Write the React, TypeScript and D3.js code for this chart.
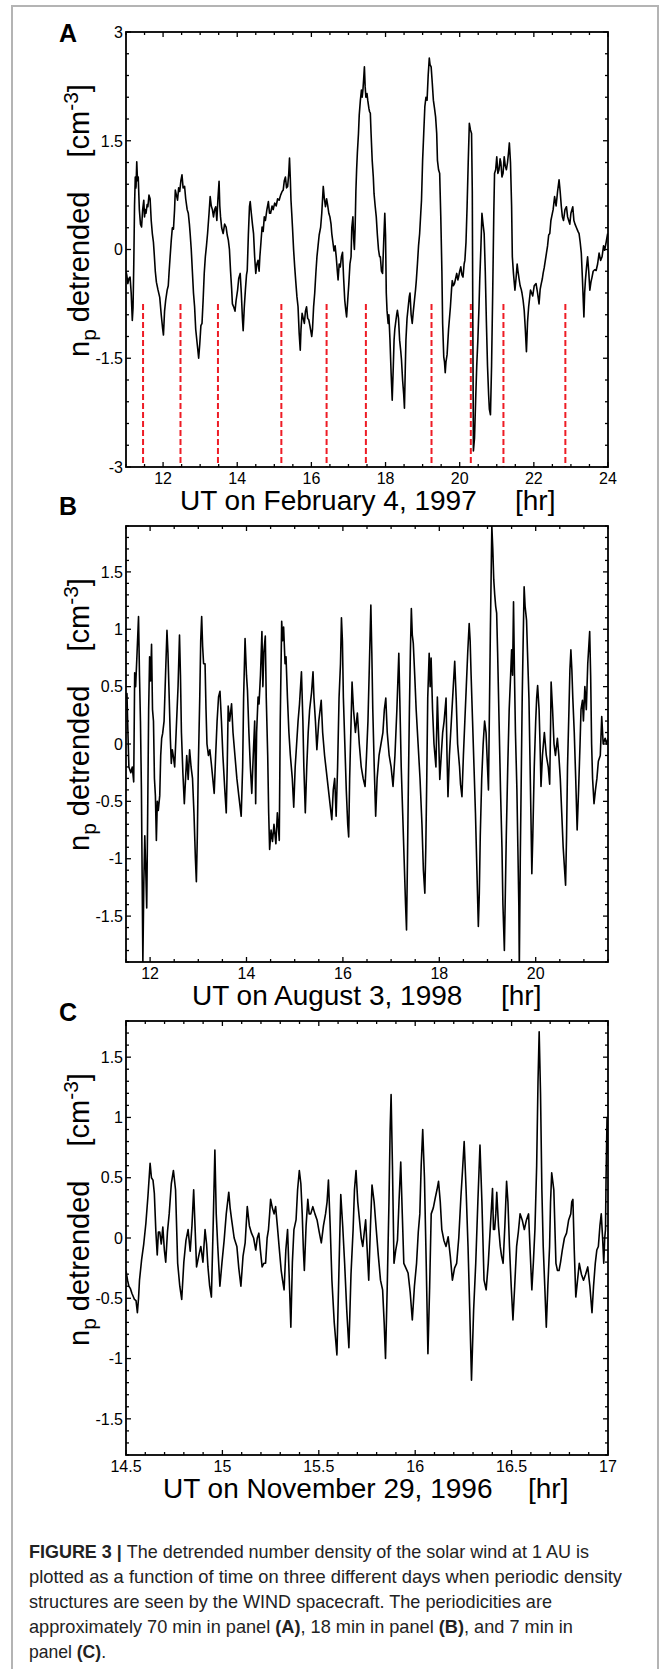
import React from "react";
import * as d3 from "d3";

type Pt = [number, number];

// Panel A: UT on February 4, 1997 (hour, detrended n_p)
const seriesA: Pt[] = [
[11.00,-0.30],[11.02,-0.35],[11.05,-0.47],[11.08,-0.40],[11.11,-0.38],[11.14,-0.60],[11.17,-0.98],[11.19,-0.80],[11.21,-0.2],[11.23,0.6],[11.25,1.0],[11.27,0.85],[11.29,1.21],[11.31,0.95],[11.33,1.0],[11.36,0.55],[11.39,0.35],[11.42,0.31],[11.45,0.55],[11.48,0.68],[11.50,0.45],[11.52,0.55],[11.54,0.50],[11.57,0.62],[11.59,0.59],[11.62,0.75],[11.65,0.70],[11.68,0.40],[11.71,0.22],[11.74,0.1],[11.76,-0.05],[11.79,-0.3],[11.82,-0.45],[11.86,-0.55],[11.91,-0.66],[11.95,-0.90],[11.99,-1.10],[12.01,-1.18],[12.04,-0.85],[12.07,-0.70],[12.11,-0.56],[12.14,-0.50],[12.16,-0.33],[12.19,-0.1],[12.22,0.12],[12.25,0.30],[12.28,0.28],[12.31,0.55],[12.33,0.82],[12.36,0.75],[12.39,0.68],[12.42,0.85],[12.45,0.80],[12.48,0.95],[12.51,1.03],[12.54,0.85],[12.58,0.87],[12.61,0.70],[12.65,0.55],[12.68,0.50],[12.71,0.35],[12.73,0.22],[12.76,0.0],[12.79,-0.30],[12.82,-0.60],[12.85,-0.79],[12.88,-1.10],[12.92,-1.30],[12.96,-1.50],[12.99,-1.30],[13.02,-1.05],[13.05,-1.02],[13.08,-0.70],[13.11,-0.33],[13.14,-0.10],[13.17,0.05],[13.20,0.22],[13.24,0.50],[13.27,0.73],[13.30,0.60],[13.33,0.55],[13.36,0.45],[13.39,0.55],[13.42,0.59],[13.45,0.40],[13.48,0.70],[13.51,0.94],[13.53,0.60],[13.55,0.45],[13.58,0.30],[13.62,0.22],[13.66,0.35],[13.70,0.31],[13.73,0.20],[13.76,0.13],[13.79,0.0],[13.82,-0.30],[13.85,-0.55],[13.87,-0.75],[13.91,-0.80],[13.94,-0.85],[13.97,-0.70],[14.01,-0.56],[14.04,-0.40],[14.08,-0.33],[14.11,-0.60],[14.14,-0.95],[14.16,-1.12],[14.19,-0.80],[14.22,-0.56],[14.25,-0.35],[14.27,-0.29],[14.30,0.20],[14.33,0.59],[14.35,0.66],[14.38,0.50],[14.41,0.35],[14.44,0.22],[14.47,-0.10],[14.50,-0.33],[14.53,-0.20],[14.56,-0.15],[14.59,-0.30],[14.61,-0.10],[14.64,0.10],[14.67,0.31],[14.70,0.25],[14.73,0.45],[14.76,0.40],[14.80,0.55],[14.84,0.66],[14.87,0.50],[14.90,0.50],[14.94,0.60],[14.97,0.55],[15.01,0.64],[15.05,0.60],[15.09,0.70],[15.13,0.68],[15.17,0.75],[15.21,0.80],[15.24,0.82],[15.27,0.95],[15.30,1.00],[15.33,0.85],[15.36,0.87],[15.39,1.05],[15.41,1.26],[15.43,1.00],[15.45,0.68],[15.47,0.50],[15.49,0.31],[15.52,0.0],[15.55,-0.24],[15.58,-0.45],[15.61,-0.65],[15.64,-0.79],[15.67,-1.15],[15.70,-1.39],[15.72,-1.10],[15.75,-0.88],[15.78,-0.95],[15.81,-1.02],[15.84,-0.85],[15.87,-0.79],[15.90,-0.95],[15.93,-0.97],[15.96,-1.05],[16.01,-1.20],[16.03,-1.10],[16.06,-0.79],[16.09,-0.60],[16.12,-0.33],[16.15,-0.10],[16.18,0.05],[16.21,0.20],[16.25,0.31],[16.28,0.50],[16.32,0.87],[16.35,0.70],[16.38,0.59],[16.41,0.70],[16.44,0.61],[16.47,0.50],[16.50,0.45],[16.53,0.35],[16.55,0.22],[16.58,0.10],[16.61,-0.02],[16.64,0.05],[16.67,-0.10],[16.70,-0.30],[16.72,-0.42],[16.75,-0.20],[16.78,-0.24],[16.81,-0.10],[16.84,-0.04],[16.87,-0.40],[16.90,-0.70],[16.93,-0.85],[16.95,-0.93],[16.98,-0.70],[17.01,-0.47],[17.04,-0.20],[17.07,-0.10],[17.09,0.30],[17.12,0.45],[17.14,0.15],[17.16,0.0],[17.18,0.30],[17.20,0.80],[17.22,1.10],[17.24,1.33],[17.27,1.60],[17.29,1.85],[17.32,2.05],[17.35,2.20],[17.37,2.10],[17.39,2.20],[17.41,2.35],[17.43,2.52],[17.45,2.25],[17.47,2.10],[17.50,2.15],[17.52,2.06],[17.55,1.95],[17.57,1.90],[17.59,1.88],[17.61,1.60],[17.64,1.23],[17.67,1.00],[17.69,0.77],[17.72,0.60],[17.75,0.45],[17.78,0.20],[17.81,0.0],[17.84,-0.10],[17.86,-0.10],[17.89,-0.30],[17.92,-0.33],[17.95,0.10],[17.98,0.50],[18.00,0.20],[18.02,-0.60],[18.04,-0.84],[18.07,-1.02],[18.09,-0.90],[18.12,-1.25],[18.15,-1.70],[18.18,-2.08],[18.21,-1.60],[18.23,-1.25],[18.25,-1.10],[18.27,-1.02],[18.30,-0.90],[18.32,-0.84],[18.35,-0.95],[18.38,-1.25],[18.41,-1.40],[18.43,-1.52],[18.46,-1.80],[18.49,-2.00],[18.51,-2.19],[18.53,-1.70],[18.55,-1.25],[18.58,-0.95],[18.61,-0.80],[18.64,-0.65],[18.66,-0.60],[18.69,-0.90],[18.72,-1.02],[18.75,-0.85],[18.78,-0.70],[18.81,-0.55],[18.83,-0.43],[18.86,-0.20],[18.89,0.05],[18.92,0.22],[18.95,0.50],[18.97,0.68],[19.00,1.23],[19.03,1.60],[19.06,1.97],[19.09,2.10],[19.12,2.06],[19.15,2.40],[19.18,2.64],[19.20,2.55],[19.23,2.52],[19.26,2.30],[19.29,2.06],[19.32,1.95],[19.35,1.83],[19.38,1.60],[19.40,1.23],[19.43,1.10],[19.46,1.05],[19.49,0.45],[19.52,-0.30],[19.54,-1.02],[19.57,-1.48],[19.59,-1.55],[19.61,-1.70],[19.63,-1.55],[19.66,-1.45],[19.70,-1.10],[19.75,-0.79],[19.78,-0.55],[19.80,-0.43],[19.83,-0.50],[19.86,-0.47],[19.89,-0.40],[19.92,-0.33],[19.95,-0.42],[19.97,-0.38],[20.00,-0.30],[20.03,-0.24],[20.06,-0.35],[20.09,-0.38],[20.12,-0.20],[20.14,-0.15],[20.17,0.10],[20.20,0.60],[20.23,1.20],[20.26,1.74],[20.29,1.65],[20.32,1.60],[20.34,0.80],[20.35,-0.50],[20.37,-2.78],[20.40,-2.60],[20.43,-2.08],[20.46,-1.60],[20.49,-1.25],[20.52,-0.80],[20.54,-0.43],[20.57,0.0],[20.60,0.50],[20.63,0.35],[20.66,0.22],[20.69,-0.30],[20.72,-1.00],[20.75,-1.60],[20.78,-2.00],[20.80,-2.20],[20.83,-2.28],[20.86,-1.60],[20.89,-0.60],[20.92,0.50],[20.94,1.05],[20.97,1.10],[21.00,1.28],[21.03,1.05],[21.06,1.10],[21.09,1.25],[21.11,1.20],[21.14,1.00],[21.17,1.05],[21.20,1.28],[21.23,1.15],[21.26,1.10],[21.29,1.20],[21.32,1.35],[21.34,1.47],[21.37,1.20],[21.40,0.60],[21.42,-0.10],[21.45,-0.33],[21.49,-0.56],[21.52,-0.40],[21.55,-0.20],[21.57,-0.29],[21.60,-0.40],[21.63,-0.50],[21.66,-0.55],[21.68,-0.60],[21.71,-0.70],[21.74,-0.84],[21.77,-1.10],[21.80,-1.41],[21.83,-1.00],[21.86,-0.79],[21.89,-0.65],[21.91,-0.56],[21.94,-0.60],[21.97,-0.64],[22.01,-0.50],[22.06,-0.47],[22.10,-0.60],[22.14,-0.75],[22.17,-0.55],[22.20,-0.47],[22.23,-0.40],[22.25,-0.33],[22.28,-0.25],[22.31,-0.15],[22.34,-0.05],[22.37,0.05],[22.40,0.20],[22.43,0.22],[22.46,0.40],[22.48,0.45],[22.52,0.55],[22.56,0.73],[22.60,0.60],[22.64,0.80],[22.68,0.96],[22.71,0.80],[22.74,0.60],[22.77,0.45],[22.80,0.40],[22.84,0.55],[22.88,0.59],[22.91,0.45],[22.94,0.40],[22.97,0.35],[23.00,0.50],[23.05,0.59],[23.08,0.40],[23.11,0.35],[23.15,0.30],[23.19,0.25],[23.22,0.22],[23.25,0.10],[23.28,-0.05],[23.31,-0.40],[23.35,-0.93],[23.37,-0.60],[23.39,-0.43],[23.42,-0.25],[23.45,-0.10],[23.48,-0.30],[23.51,-0.56],[23.54,-0.45],[23.57,-0.38],[23.60,-0.30],[23.64,-0.28],[23.68,-0.29],[23.72,-0.20],[23.76,-0.05],[23.80,-0.15],[23.84,-0.10],[23.88,0.05],[23.91,-0.01],[23.95,0.10],[23.99,0.22]
];

// Panel B: UT on August 3, 1998
const seriesB: Pt[] = [
[11.50,0.40],[11.52,0.44],[11.54,0.10],[11.56,-0.20],[11.60,-0.25],[11.63,-0.20],[11.66,-0.33],[11.68,0.62],[11.70,0.50],[11.73,0.80],[11.76,1.11],[11.78,0.60],[11.80,0.20],[11.82,-0.40],[11.85,-1.9],[11.87,-1.20],[11.89,-0.80],[11.91,-1.10],[11.93,-1.43],[11.95,-0.60],[11.97,0.30],[11.99,0.76],[12.01,0.55],[12.03,0.87],[12.05,0.30],[12.07,0.20],[12.09,-0.30],[12.11,-0.45],[12.13,-0.84],[12.15,-0.50],[12.17,-0.58],[12.20,-0.45],[12.22,-0.10],[12.24,0.05],[12.26,0.09],[12.29,0.20],[12.32,0.60],[12.35,0.99],[12.37,0.80],[12.39,0.50],[12.42,0.05],[12.44,-0.17],[12.46,-0.05],[12.48,-0.10],[12.51,-0.20],[12.54,0.10],[12.58,0.50],[12.61,0.95],[12.63,0.60],[12.65,0.10],[12.68,-0.25],[12.71,-0.52],[12.73,-0.35],[12.76,-0.10],[12.79,-0.31],[12.82,-0.05],[12.85,-0.20],[12.88,-0.30],[12.91,-0.60],[12.94,-1.00],[12.96,-1.20],[12.98,-0.80],[13.00,-0.20],[13.03,0.40],[13.05,0.90],[13.07,1.11],[13.09,0.85],[13.11,0.70],[13.14,0.70],[13.16,0.30],[13.18,0.00],[13.21,-0.10],[13.24,-0.05],[13.27,-0.17],[13.30,-0.30],[13.33,-0.43],[13.36,-0.10],[13.39,0.20],[13.42,0.41],[13.45,0.46],[13.48,0.20],[13.51,-0.10],[13.55,-0.40],[13.58,-0.60],[13.60,-0.20],[13.62,0.33],[13.65,0.20],[13.69,0.35],[13.72,0.10],[13.76,-0.10],[13.80,-0.30],[13.84,-0.45],[13.89,-0.63],[13.92,-0.20],[13.94,0.40],[13.97,0.92],[14.00,0.60],[14.02,0.47],[14.05,0.10],[14.08,-0.20],[14.11,-0.43],[14.14,-0.10],[14.17,0.20],[14.19,-0.52],[14.21,0.10],[14.24,0.41],[14.26,0.35],[14.29,0.60],[14.32,0.98],[14.34,0.50],[14.36,0.80],[14.39,0.94],[14.41,0.40],[14.44,-0.10],[14.46,-0.60],[14.48,-0.92],[14.51,-0.75],[14.54,-0.85],[14.57,-0.70],[14.61,-0.87],[14.64,-0.60],[14.68,-0.84],[14.70,0.20],[14.73,1.07],[14.75,0.90],[14.77,1.02],[14.80,0.70],[14.82,0.76],[14.85,0.40],[14.88,0.10],[14.91,-0.10],[14.95,-0.30],[14.98,-0.55],[15.01,-0.20],[15.04,0.00],[15.07,0.20],[15.10,0.35],[15.14,0.63],[15.17,0.20],[15.19,-0.20],[15.22,-0.60],[15.25,-0.20],[15.28,0.10],[15.31,0.30],[15.35,0.45],[15.38,0.63],[15.40,0.40],[15.43,0.20],[15.46,-0.05],[15.50,0.20],[15.55,0.38],[15.58,0.10],[15.62,-0.10],[15.66,-0.25],[15.70,-0.40],[15.74,-0.55],[15.77,-0.66],[15.80,-0.40],[15.83,-0.30],[15.86,-0.63],[15.89,-0.20],[15.92,0.40],[15.95,0.70],[15.97,1.10],[15.99,0.90],[16.01,0.40],[16.04,0.00],[16.07,-0.40],[16.10,-0.70],[16.12,-0.81],[16.14,-0.30],[16.17,0.20],[16.19,0.54],[16.22,0.30],[16.26,0.10],[16.30,0.27],[16.34,0.00],[16.38,-0.20],[16.42,-0.30],[16.46,-0.37],[16.49,-0.10],[16.52,0.20],[16.55,0.70],[16.58,1.21],[16.60,0.80],[16.62,0.30],[16.65,-0.20],[16.68,-0.63],[16.71,-0.30],[16.75,-0.10],[16.79,0.00],[16.83,0.10],[16.86,0.30],[16.89,0.40],[16.92,0.10],[16.96,-0.10],[17.00,-0.20],[17.04,-0.37],[17.08,-0.10],[17.12,0.30],[17.16,0.79],[17.18,0.40],[17.21,-0.20],[17.24,-0.60],[17.27,-1.00],[17.30,-1.40],[17.32,-1.62],[17.34,-1.00],[17.36,-0.30],[17.38,0.30],[17.40,0.80],[17.42,1.18],[17.44,0.95],[17.46,0.88],[17.49,0.60],[17.52,0.30],[17.56,0.00],[17.60,-0.30],[17.64,-0.70],[17.67,-1.10],[17.70,-1.30],[17.72,-0.90],[17.74,-0.30],[17.76,0.40],[17.79,0.79],[17.81,0.50],[17.83,0.75],[17.86,0.30],[17.89,0.00],[17.93,-0.20],[17.96,0.41],[17.99,0.00],[18.01,-0.31],[18.04,-0.10],[18.07,0.10],[18.10,0.20],[18.14,0.40],[18.16,-0.10],[18.18,-0.46],[18.21,-0.10],[18.25,0.20],[18.29,0.50],[18.32,0.72],[18.35,0.40],[18.38,0.00],[18.42,-0.20],[18.44,-0.35],[18.47,-0.46],[18.50,-0.10],[18.53,0.20],[18.56,0.50],[18.59,0.80],[18.62,1.05],[18.64,0.90],[18.66,0.60],[18.69,0.20],[18.72,-0.20],[18.75,-0.60],[18.78,-1.10],[18.81,-1.59],[18.83,-1.30],[18.85,-0.80],[18.88,-0.30],[18.91,0.00],[18.94,0.20],[18.97,0.10],[19.00,-0.20],[19.02,-0.40],[19.04,0.30],[19.06,1.00],[19.08,1.60],[19.09,1.90],[19.11,1.70],[19.13,1.43],[19.15,1.30],[19.17,1.20],[19.19,1.14],[19.21,0.80],[19.24,0.20],[19.27,-0.40],[19.30,-0.90],[19.32,-1.40],[19.35,-1.80],[19.37,-1.30],[19.39,-0.80],[19.42,-0.20],[19.45,0.30],[19.48,0.60],[19.50,0.82],[19.52,0.60],[19.54,1.24],[19.56,0.59],[19.58,0.10],[19.61,-0.40],[19.63,-0.90],[19.65,-1.40],[19.66,-1.95],[19.68,-1.00],[19.70,-0.30],[19.72,0.40],[19.74,0.90],[19.76,1.37],[19.78,1.20],[19.81,1.08],[19.83,0.80],[19.86,0.40],[19.88,-0.10],[19.90,-0.60],[19.92,-1.13],[19.94,-0.80],[19.97,-0.20],[20.00,0.20],[20.02,0.40],[20.04,0.51],[20.07,0.30],[20.09,0.00],[20.11,-0.37],[20.14,-0.10],[20.18,0.10],[20.22,-0.10],[20.26,-0.20],[20.29,-0.35],[20.31,0.20],[20.32,0.54],[20.35,0.30],[20.38,0.00],[20.41,-0.10],[20.45,0.05],[20.48,-0.10],[20.51,-0.30],[20.54,-0.60],[20.57,-0.90],[20.60,-1.10],[20.62,-1.23],[20.64,-0.80],[20.66,-0.20],[20.69,0.30],[20.71,0.65],[20.73,0.82],[20.75,0.65],[20.77,0.40],[20.80,0.10],[20.83,-0.30],[20.86,-0.75],[20.89,-0.40],[20.92,0.00],[20.94,0.30],[20.97,0.38],[20.99,0.20],[21.02,0.50],[21.05,0.30],[21.08,0.70],[21.12,0.98],[21.14,0.60],[21.16,0.00],[21.18,-0.30],[21.21,-0.52],[21.24,-0.40],[21.27,-0.30],[21.30,-0.15],[21.34,-0.10],[21.37,0.24],[21.40,0.00],[21.44,0.05],[21.47,0.00],[21.50,0.05]
];

// Panel C: UT on November 29, 1996
const seriesC: Pt[] = [
[14.500,-0.27],[14.508,-0.35],[14.515,-0.40],[14.523,-0.42],[14.531,-0.46],[14.544,-0.51],[14.552,-0.52],[14.559,-0.62],[14.565,-0.50],[14.570,-0.35],[14.581,-0.18],[14.592,-0.05],[14.603,0.12],[14.614,0.35],[14.625,0.62],[14.632,0.50],[14.640,0.48],[14.647,0.37],[14.655,0.05],[14.662,-0.14],[14.668,0.05],[14.675,0.05],[14.683,-0.05],[14.691,0.09],[14.699,-0.10],[14.706,-0.20],[14.715,0.05],[14.724,0.20],[14.735,0.45],[14.746,0.56],[14.757,0.40],[14.768,-0.21],[14.779,-0.40],[14.789,-0.51],[14.800,-0.20],[14.811,-0.02],[14.822,0.07],[14.833,-0.11],[14.842,0.10],[14.851,0.40],[14.858,0.10],[14.866,-0.24],[14.877,-0.15],[14.888,-0.07],[14.899,-0.20],[14.910,0.07],[14.918,-0.05],[14.925,-0.24],[14.934,-0.40],[14.943,-0.49],[14.952,0.10],[14.961,0.73],[14.968,0.20],[14.976,-0.07],[14.987,-0.40],[14.998,-0.20],[15.009,-0.02],[15.020,0.20],[15.033,0.38],[15.040,0.25],[15.048,0.15],[15.061,0.00],[15.075,-0.07],[15.085,-0.25],[15.096,-0.40],[15.107,-0.15],[15.118,-0.04],[15.129,0.26],[15.140,0.10],[15.151,0.04],[15.162,0.00],[15.173,-0.10],[15.181,0.00],[15.189,0.04],[15.197,-0.10],[15.206,-0.24],[15.215,-0.21],[15.224,-0.21],[15.232,0.00],[15.239,0.07],[15.245,0.20],[15.250,0.32],[15.259,0.25],[15.268,0.20],[15.276,0.26],[15.285,0.10],[15.294,-0.07],[15.305,-0.27],[15.312,-0.35],[15.320,-0.43],[15.329,-0.10],[15.338,0.07],[15.346,-0.30],[15.355,-0.74],[15.363,-0.20],[15.371,0.07],[15.382,0.15],[15.390,0.40],[15.399,0.56],[15.407,0.45],[15.414,0.20],[15.420,-0.10],[15.425,-0.27],[15.434,0.10],[15.443,0.32],[15.450,0.20],[15.458,0.20],[15.469,0.26],[15.480,0.20],[15.491,0.15],[15.502,0.05],[15.513,-0.04],[15.524,0.10],[15.535,0.20],[15.543,0.30],[15.550,0.48],[15.559,0.10],[15.568,-0.35],[15.580,-0.70],[15.594,-0.97],[15.604,-0.30],[15.614,0.36],[15.624,0.10],[15.634,-0.21],[15.645,-0.60],[15.656,-0.91],[15.667,-0.30],[15.678,0.07],[15.685,0.40],[15.693,0.56],[15.702,0.30],[15.711,0.15],[15.720,0.00],[15.728,-0.07],[15.736,0.05],[15.743,0.15],[15.751,-0.10],[15.759,-0.35],[15.768,0.10],[15.776,0.44],[15.787,0.30],[15.798,0.07],[15.809,-0.15],[15.820,-0.35],[15.831,-0.43],[15.839,-0.70],[15.846,-1.00],[15.855,-0.40],[15.864,0.30],[15.870,0.90],[15.875,1.19],[15.882,0.60],[15.890,-0.21],[15.899,-0.10],[15.908,-0.02],[15.916,0.30],[15.925,0.63],[15.933,0.20],[15.941,-0.21],[15.952,-0.25],[15.963,-0.29],[15.974,-0.45],[15.985,-0.68],[15.996,-0.40],[16.007,-0.21],[16.016,0.05],[16.024,0.20],[16.031,0.60],[16.039,0.90],[16.048,0.50],[16.057,-0.20],[16.066,-0.96],[16.075,-0.40],[16.083,0.20],[16.094,0.25],[16.105,0.34],[16.113,0.40],[16.121,0.47],[16.130,0.30],[16.138,0.07],[16.149,-0.02],[16.160,-0.07],[16.171,0.01],[16.182,-0.15],[16.193,-0.35],[16.204,-0.25],[16.215,-0.21],[16.226,0.00],[16.237,0.34],[16.245,0.55],[16.254,0.80],[16.264,0.40],[16.274,-0.07],[16.283,-0.60],[16.292,-1.18],[16.303,-0.60],[16.314,-0.21],[16.325,0.30],[16.336,0.77],[16.346,0.30],[16.357,-0.35],[16.368,-0.43],[16.379,-0.21],[16.390,0.10],[16.401,0.41],[16.406,0.07],[16.412,0.07],[16.418,0.20],[16.423,0.38],[16.432,0.10],[16.441,-0.07],[16.448,-0.15],[16.456,-0.21],[16.465,0.10],[16.474,0.47],[16.481,0.30],[16.489,-0.07],[16.498,-0.40],[16.507,-0.68],[16.516,-0.40],[16.526,-0.07],[16.535,0.05],[16.544,0.20],[16.555,0.15],[16.566,0.07],[16.577,0.15],[16.588,0.20],[16.596,-0.10],[16.605,-0.43],[16.613,-0.20],[16.621,0.07],[16.630,0.60],[16.637,1.30],[16.643,1.71],[16.650,1.20],[16.657,0.40],[16.664,-0.07],[16.672,-0.40],[16.680,-0.74],[16.688,-0.40],[16.697,-0.07],[16.702,0.30],[16.708,0.54],[16.719,0.40],[16.730,-0.21],[16.738,-0.27],[16.746,-0.27],[16.754,-0.20],[16.763,-0.10],[16.774,0.00],[16.785,0.04],[16.796,0.15],[16.807,0.20],[16.812,0.30],[16.818,0.32],[16.825,-0.10],[16.833,-0.49],[16.842,-0.35],[16.851,-0.21],[16.862,-0.30],[16.873,-0.35],[16.884,-0.30],[16.895,-0.24],[16.906,-0.40],[16.917,-0.62],[16.925,-0.40],[16.934,-0.21],[16.942,-0.10],[16.950,-0.07],[16.958,0.10],[16.965,0.20],[16.972,0.00],[16.978,-0.21],[16.983,0.00],[16.987,0.07],[16.990,0.50],[16.995,1.00],[17.000,0.70]
];

// Red dashed markers in panel A (hours)
const redLinesA = [11.46, 12.47, 13.48, 15.19, 16.41, 17.47, 19.24, 20.30, 21.18, 22.85];
const redTopA = -0.75;

// Axis ticks
const xLabelsA = [12, 14, 16, 18, 20, 22, 24];
const yLabelsA = [3, 1.5, 0, -1.5, -3];
const xLabelsB = [12, 14, 16, 18, 20];
const yLabelsB = [1.5, 1, 0.5, 0, -0.5, -1, -1.5];
const xLabelsC = [14.5, 15, 15.5, 16, 16.5, 17];
const yLabelsC = [1.5, 1, 0.5, 0, -0.5, -1, -1.5];

const titles = ["UT on February 4, 1997", "UT on August 3, 1998", "UT on November 29, 1996"];
const panelLetters = ["A", "B", "C"];

const FONT = "'Liberation Sans', Arial, Helvetica, sans-serif";
const LEFT = 126;
const RIGHT = 608;

type PanelProps = {
  id: string;
  data: Pt[];
  xDomain: [number, number];
  yDomain: [number, number];
  top: number;
  bottom: number;
  xLabels: number[];
  yLabels: number[];
  xMinor: number;
  yMinor: number;
  letter: string;
  letterY: number;
  title: string;
  titleX: number;
  hrX: number;
  red?: number[];
};

function rangeTicks(a: number, b: number, step: number): number[] {
  const n = Math.round((b - a) / step);
  return d3.range(0, n + 1).map((i) => +(a + i * step).toFixed(4));
}

function Panel(p: PanelProps) {
  const x = d3.scaleLinear().domain(p.xDomain).range([LEFT, RIGHT]);
  const y = d3.scaleLinear().domain(p.yDomain).range([p.bottom, p.top]);
  const line = d3
    .line<Pt>()
    .x((d) => x(d[0]))
    .y((d) => y(d[1]));
  const xMinorTicks = rangeTicks(p.xDomain[0], p.xDomain[1], p.xMinor);
  const yMinorTicks = rangeTicks(p.yDomain[0], p.yDomain[1], p.yMinor);
  const minorLen = 3;
  const majorLen = 5;
  const isMajorX = (v: number) => p.xLabels.some((l) => Math.abs(l - v) < 1e-6);
  const isMajorY = (v: number) => p.yLabels.some((l) => Math.abs(l - v) < 1e-6);
  return (
    <g>
      <defs>
        <clipPath id={`clip-${p.id}`}>
          <rect x={LEFT} y={p.top} width={RIGHT - LEFT} height={p.bottom - p.top} />
        </clipPath>
      </defs>
      {p.red &&
        p.red.map((h, i) => (
          <line
            key={`r${i}`}
            x1={x(h)}
            x2={x(h)}
            y1={y(redTopA)}
            y2={p.bottom}
            stroke="#ee1c25"
            strokeWidth={2}
            strokeDasharray="6,3"
          />
        ))}
      <path
        d={line(p.data) || ""}
        fill="none"
        stroke="#000"
        strokeWidth={1.6}
        strokeLinejoin="round"
        clipPath={`url(#clip-${p.id})`}
      />
      {xMinorTicks.map((v, i) => {
        const L = isMajorX(v) ? majorLen : minorLen;
        return (
          <g key={`xt${i}`} stroke="#000" strokeWidth={1.3}>
            <line x1={x(v)} x2={x(v)} y1={p.bottom} y2={p.bottom - L} />
            <line x1={x(v)} x2={x(v)} y1={p.top} y2={p.top + L} />
          </g>
        );
      })}
      {yMinorTicks.map((v, i) => {
        const L = isMajorY(v) ? majorLen : minorLen;
        return (
          <g key={`yt${i}`} stroke="#000" strokeWidth={1.3}>
            <line x1={LEFT} x2={LEFT + L} y1={y(v)} y2={y(v)} />
            <line x1={RIGHT} x2={RIGHT - L} y1={y(v)} y2={y(v)} />
          </g>
        );
      })}
      <rect
        x={LEFT}
        y={p.top}
        width={RIGHT - LEFT}
        height={p.bottom - p.top}
        fill="none"
        stroke="#000"
        strokeWidth={1.8}
      />
      {p.xLabels.map((v, i) => (
        <text
          key={`xl${i}`}
          x={x(v)}
          y={p.bottom + 17}
          textAnchor="middle"
          fontSize={16}
          fontFamily={FONT}
          fill="#000"
        >
          {String(v)}
        </text>
      ))}
      {p.yLabels.map((v, i) => (
        <text
          key={`yl${i}`}
          x={LEFT - 3}
          y={y(v)}
          dy="0.36em"
          textAnchor="end"
          fontSize={16}
          fontFamily={FONT}
          fill="#000"
        >
          {String(v)}
        </text>
      ))}
      <text x={p.titleX} y={p.bottom + 43} fontSize={28} fontFamily={FONT} fill="#000">
        {p.title}
      </text>
      <text x={p.hrX} y={p.bottom + 43} fontSize={28} fontFamily={FONT} fill="#000">
        [hr]
      </text>
      <text
        transform={`translate(89,${p.top + 325}) rotate(-90)`}
        fontSize={29}
        fontFamily={FONT}
        fill="#000"
      >
        <tspan>n</tspan>
        <tspan fontSize={21} dy={7}>
          p
        </tspan>
        <tspan dy={-7} dx={7}>
          detrended
        </tspan>
        <tspan dx={34}>[cm</tspan>
        <tspan fontSize={21} dy={-11}>
          -3
        </tspan>
        <tspan dy={11}>]</tspan>
      </text>
      <text x={59} y={p.letterY} fontSize={25} fontWeight="bold" fontFamily={FONT} fill="#000">
        {p.letter}
      </text>
    </g>
  );
}

const captionLines = [
  { parts: [["FIGURE 3 | ", true], ["The detrended number density of the solar wind at 1 AU is", false]], w: 560 },
  { parts: [["plotted as a function of time on three different days when periodic density", false]], w: 593 },
  { parts: [["structures are seen by the WIND spacecraft. The periodicities are", false]], w: 523 },
  {
    parts: [
      ["approximately 70 min in panel ", false],
      ["(A)", true],
      [", 18 min in panel ", false],
      ["(B)", true],
      [", and 7 min in", false],
    ],
    w: 544,
  },
  { parts: [["panel ", false], ["(C)", true], [".", false]], w: 77 },
];

export default function App() {
  return (
    <svg
      width={663}
      height={1669}
      viewBox="0 0 663 1669"
      style={{ position: "absolute", left: 0, top: 0, background: "#fff" }}
    >
      <rect x={0} y={0} width={663} height={1669} fill="#fff" />
      <rect x={12} y={6} width={646} height={1700} fill="none" stroke="#b4b4b4" strokeWidth={2} />
      <Panel
        id="A"
        data={seriesA}
        xDomain={[11, 24]}
        yDomain={[-3, 3]}
        top={32}
        bottom={467}
        xLabels={xLabelsA}
        yLabels={yLabelsA}
        xMinor={0.5}
        yMinor={0.3}
        letter={panelLetters[0]}
        letterY={42}
        title={titles[0]}
        titleX={180}
        hrX={515}
        red={redLinesA}
      />
      <Panel
        id="B"
        data={seriesB}
        xDomain={[11.5, 21.5]}
        yDomain={[-1.9, 1.9]}
        top={526}
        bottom={962}
        xLabels={xLabelsB}
        yLabels={yLabelsB}
        xMinor={0.5}
        yMinor={0.1}
        letter={panelLetters[1]}
        letterY={515}
        title={titles[1]}
        titleX={192}
        hrX={501}
      />
      <Panel
        id="C"
        data={seriesC}
        xDomain={[14.5, 17]}
        yDomain={[-1.8, 1.8]}
        top={1021}
        bottom={1455}
        xLabels={xLabelsC}
        yLabels={yLabelsC}
        xMinor={0.1}
        yMinor={0.1}
        letter={panelLetters[2]}
        letterY={1021}
        title={titles[2]}
        titleX={163}
        hrX={528}
      />
      {captionLines.map((ln, i) => (
        <text
          key={`cap${i}`}
          x={29}
          y={1558 + i * 25}
          fontSize={18.5}
          fontFamily={FONT}
          fill="#222"
          textLength={ln.w}
          lengthAdjust="spacingAndGlyphs"
          style={{ whiteSpace: "pre" }}
        >
          {ln.parts.map((pt, j) => (
            <tspan key={j} fontWeight={pt[1] ? "bold" : "normal"}>
              {pt[0] as string}
            </tspan>
          ))}
        </text>
      ))}
    </svg>
  );
}
